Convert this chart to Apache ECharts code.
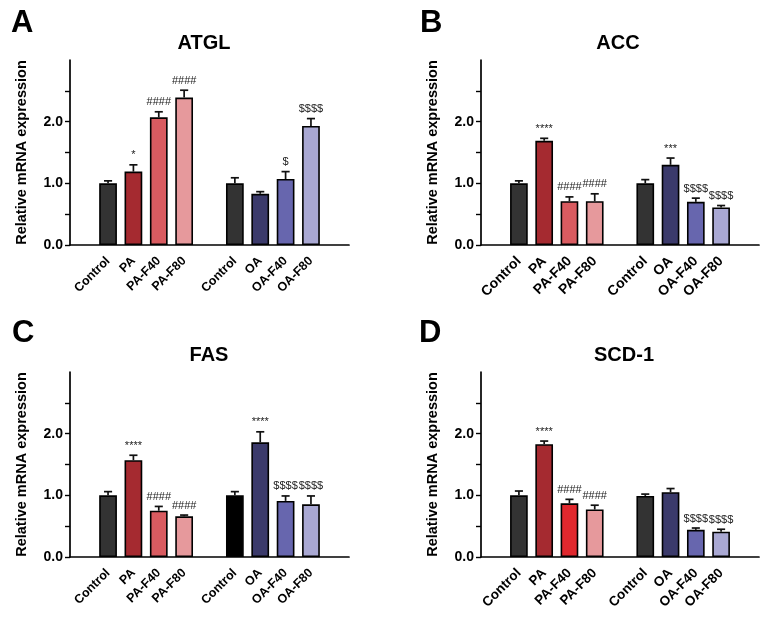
<!DOCTYPE html>
<html><head><meta charset="utf-8">
<script src="https://cdn.jsdelivr.net/npm/echarts@6/dist/echarts.min.js"></script>
<style>html,body{margin:0;padding:0;background:#fff}#c{width:769px;height:621px}</style>
</head><body><div id="c"></div>
<script>
const categories = ['', 'Control', 'PA', 'PA-F40', 'PA-F80', '', 'Control', 'OA', 'OA-F40', 'OA-F80', ''];
const slots = [1, 2, 3, 4, 6, 7, 8, 9];
const panelLetters = ['A', 'B', 'C', 'D'];
const genes = ['ATGL', 'ACC', 'FAS', 'SCD-1'];
const yTickValues = [0, 0.5, 1, 1.5, 2, 2.5];
const yLabelValues = [0, 1, 2];

const atglMean = [1.00, 1.19, 2.07, 2.39, 1.00, 0.83, 1.07, 1.93];
const atglErr  = [1.04, 1.30, 2.16, 2.51, 1.09, 0.865, 1.19, 2.05];
const atglMarks = ['', '*', '####', '####', '', '', '$', '$$$$'];

const accMean = [1.00, 1.69, 0.71, 0.71, 1.00, 1.30, 0.70, 0.61];
const accErr  = [1.04, 1.73, 0.78, 0.83, 1.06, 1.41, 0.76, 0.64];
const accMarks = ['', '****', '####', '####', '', '***', '$$$$', '$$$$'];

const fasMean = [1.00, 1.57, 0.75, 0.66, 1.00, 1.86, 0.91, 0.855];
const fasErr  = [1.06, 1.65, 0.82, 0.68, 1.06, 2.03, 0.99, 0.99];
const fasMarks = ['', '****', '####', '####', '', '****', '$$$$', '$$$$'];

const scdMean = [1.00, 1.83, 0.87, 0.77, 0.99, 1.05, 0.44, 0.41];
const scdErr  = [1.07, 1.88, 0.935, 0.84, 1.02, 1.11, 0.47, 0.45];
const scdMarks = ['', '****', '####', '####', '', '', '$$$$', '$$$$'];

const colorsStd = ['#333333', '#a52a30', '#d95b60', '#e6999c', '#333333', '#3b3a6b', '#6766ae', '#a9a8d3'];
const colorsC   = ['#333333', '#a52a30', '#d95b60', '#e6999c', '#000000', '#3b3a6b', '#6766ae', '#a9a8d3'];
const colorsD   = ['#333333', '#a52a30', '#e0282e', '#e6999c', '#333333', '#3b3a6b', '#6766ae', '#a9a8d3'];

const panels = [
  { mean: atglMean, err: atglErr, marks: atglMarks, colors: colorsStd },
  { mean: accMean, err: accErr, marks: accMarks, colors: colorsStd },
  { mean: fasMean, err: fasErr, marks: fasMarks, colors: colorsC },
  { mean: scdMean, err: scdErr, marks: scdMarks, colors: colorsD }
];

const FONT = '"Liberation Sans", Arial, sans-serif';
const grids = [
  { left: 70, top: 60, width: 279, height: 185 },
  { left: 481, top: 60, width: 278, height: 185 },
  { left: 70, top: 372, width: 279, height: 185 },
  { left: 481, top: 372, width: 278, height: 185 }
];
const xLabelSize = [12.5, 14, 12.5, 13.5];
const titlePos = [[204, 43], [618, 43], [209, 355], [624, 355]];
const letterPos = [[11, 23], [420, 23], [12, 333], [419, 333]];

function errRender(marks) {
  return function (params, api) {
    const x = api.value(0), m = api.value(1), e = api.value(2);
    const pm = api.coord([x, m]), pe = api.coord([x, e]);
    const cap = api.size([1, 0])[0] * 0.16;
    const children = [
      { type: 'line', shape: { x1: pm[0], y1: pm[1], x2: pe[0], y2: pe[1] }, style: { stroke: '#111', lineWidth: 1.7 } },
      { type: 'line', shape: { x1: pe[0] - cap, y1: pe[1], x2: pe[0] + cap, y2: pe[1] }, style: { stroke: '#111', lineWidth: 1.7 } }
    ];
    const t = marks[params.dataIndex];
    if (t) {
      children.push({ type: 'text', x: pe[0], y: pe[1] - 4,
        style: { text: t, font: '11px ' + FONT, fill: '#222', align: 'center', verticalAlign: 'bottom', textAlign: 'center', textVerticalAlign: 'bottom' } });
    }
    return { type: 'group', children };
  };
}

const option = {
  animation: false,
  backgroundColor: '#fff',
  grid: grids,
  xAxis: grids.map((g, i) => ({
    type: 'category', gridIndex: i, data: categories,
    axisLine: { lineStyle: { color: '#000', width: 1.7 } },
    axisTick: { show: false },
    axisLabel: { interval: 0, rotate: 45, margin: 14, color: '#000', fontWeight: 'bold', fontSize: xLabelSize[i], fontFamily: FONT }
  })),
  yAxis: grids.map((g, i) => ({
    type: 'value', gridIndex: i, min: 0, max: 3, interval: 0.5,
    name: 'Relative mRNA expression', nameLocation: 'middle', nameGap: 41, nameRotate: 90,
    nameTextStyle: { color: '#000', fontWeight: 'bold', fontSize: 14.5, fontFamily: FONT },
    splitLine: { show: false },
    axisLine: { show: true, lineStyle: { color: '#000', width: 1.7 } },
    axisTick: { show: true, length: 5, customValues: yTickValues, lineStyle: { color: '#000', width: 1.4 } },
    axisLabel: { customValues: yLabelValues, margin: 7, color: '#000', fontWeight: 'bold', fontSize: 14, fontFamily: FONT,
      formatter: v => (Math.abs(v % 1) < 1e-9 && v < 3) ? v.toFixed(1) : '' }
  })),
  graphic: [].concat(
    genes.map((g, i) => ({ type: 'text', x: titlePos[i][0], y: titlePos[i][1],
      style: { text: g, font: 'bold 20px ' + FONT, fill: '#000', align: 'center', verticalAlign: 'middle', textAlign: 'center', textVerticalAlign: 'middle' } })),
    panelLetters.map((l, i) => ({ type: 'text', x: letterPos[i][0], y: letterPos[i][1],
      style: { text: l, font: 'bold 31px ' + FONT, fill: '#000', align: 'left', verticalAlign: 'middle', textAlign: 'left', textVerticalAlign: 'middle' } }))
  ),
  series: [].concat(
    panels.map((p, i) => ({
      type: 'bar', xAxisIndex: i, yAxisIndex: i, barWidth: '70%',
      data: p.mean.map((v, k) => ({ value: [slots[k], v], itemStyle: { color: p.colors[k], borderColor: '#000', borderWidth: 1.6 } }))
    })),
    panels.map((p, i) => ({
      type: 'custom', xAxisIndex: i, yAxisIndex: i, z: 5,
      renderItem: errRender(p.marks),
      data: p.mean.map((v, k) => [slots[k], v, p.err[k]])
    }))
  )
};
echarts.init(document.getElementById('c')).setOption(option);
</script></body></html>
